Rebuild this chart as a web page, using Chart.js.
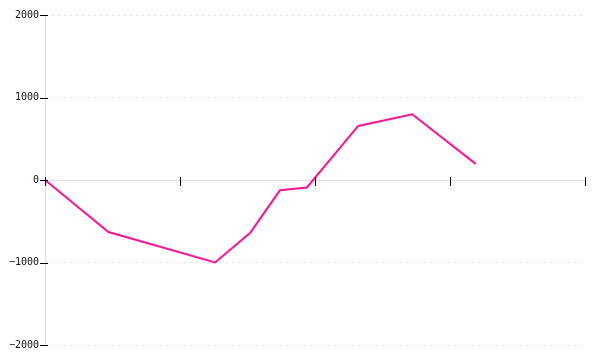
<!DOCTYPE html>
<html>
<head>
<meta charset="utf-8">
<script src="https://cdn.jsdelivr.net/npm/chart.js@4"></script>
<style>
  html, body { margin: 0; padding: 0; background: #fff; }
  #wrap { width: 600px; height: 360px; }
</style>
</head>
<body>
<div id="wrap"><canvas id="lineChart"></canvas></div>
<script>
// values
var xValues = [0, 0.47, 1.26, 1.52, 1.74, 1.94, 2.32, 2.72, 3.19];
var yValues = [0, -630, -1000, -640, -125, -90, 655, 796, 195];
var yTicks = [-2000, -1000, 0, 1000, 2000];
var xTicks = [0, 1, 2, 3, 4];

var points = [];
for (var i = 0; i < xValues.length; i++) {
  points.push({ x: xValues[i], y: yValues[i] });
}

// small black tick marks crossing the axis lines
var crossTicks = {
  id: "crossTicks",
  afterDraw: function (chart) {
    var ctx = chart.ctx;
    var xs = chart.scales.x, ys = chart.scales.y;
    var ax = xs.getPixelForValue(0);
    var ay = ys.getPixelForValue(0);
    ctx.save();
    ctx.strokeStyle = "#000";
    ctx.lineWidth = 1;
    ctx.beginPath();
    yTicks.forEach(function (v) {
      var py = Math.round(ys.getPixelForValue(v)) + 0.5;
      ctx.moveTo(ax - 5, py);
      ctx.lineTo(ax + 3, py);
    });
    xTicks.forEach(function (v) {
      var px = Math.round(xs.getPixelForValue(v)) + 0.5;
      ctx.moveTo(px, ay - 3);
      ctx.lineTo(px, ay + 6);
    });
    ctx.stroke();
    ctx.restore();
  }
};

var ctxL = document.getElementById("lineChart").getContext("2d");
var myLineChart = new Chart(ctxL, {
  type: "scatter",
  data: {
    datasets: [
      {
        data: points,
        showLine: true,
        borderColor: "rgb(255, 20, 147)",
        backgroundColor: "rgb(255, 20, 147)",
        borderWidth: 2,
        pointRadius: 0,
        tension: 0,
      },
    ],
  },
  options: {
    responsive: true,
    maintainAspectRatio: false,
    animation: false,
    layout: { padding: { left: 0, right: 15, top: 15, bottom: 15 } },
    plugins: { legend: { display: false }, tooltip: { enabled: false } },
    scales: {
      x: {
        type: "linear",
        position: { y: 0 },
        min: 0,
        max: 4,
        afterBuildTicks: function (axis) {
          axis.ticks = xTicks.map(function (v) { return { value: v }; });
        },
        ticks: { display: false },
        grid: { display: false },
        border: { color: "#dddddd", width: 1 },
      },
      y: {
        type: "linear",
        position: "left",
        min: -2000,
        max: 2000,
        afterBuildTicks: function (axis) {
          axis.ticks = yTicks.map(function (v) { return { value: v }; });
        },
        afterFit: function (axis) { axis.width = 45; },
        ticks: {
          color: "#111",
          padding: 0,
          font: { family: "DejaVu Sans Mono", size: 10 },
          callback: function (v) { return String(v).replace("-", "\u2212"); },
        },
        grid: {
          drawTicks: true,
          tickLength: 6,
          tickColor: "rgba(0,0,0,0)",
          color: function (c) { return c.tick && c.tick.value === 0 ? "rgba(0,0,0,0)" : "#e4e4e4"; },
        },
        border: { color: "#dddddd", width: 1, dash: [2, 4] },
      },
    },
  },
  plugins: [crossTicks],
});
</script>
</body>
</html>
